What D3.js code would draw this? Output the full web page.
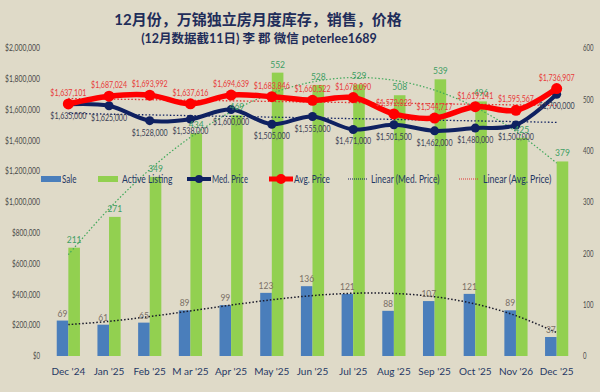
<!DOCTYPE html>
<html>
<head>
<meta charset="utf-8">
<script src="https://cdn.jsdelivr.net/npm/d3@7"></script>
<style>
  body { margin: 0; background: #dfdac8; }
  svg { display: block; font-family: Lato, "Noto Sans CJK SC", sans-serif; }
</style>
</head>
<body>
<div id="chart"></div>
<script>
'use strict';

const months = ["Dec '24", "Jan '25", "Feb '25", "M ar '25", "Apr '25", "May '25", "Jun '25",
    "Jul '25", "Aug '25", "Sep '25", "Oct '25", "Nov '26", "Dec '25"];
const sales = [69, 61, 65, 89, 99, 123, 136, 121, 88, 107, 121, 89, 37];
const listings = [211, 271, 349, 434, 469, 552, 528, 529, 508, 539, 496, 425, 379];
const medPrice = [1635000, 1625000, 1528000, 1538000, 1600000, 1505000, 1555000,
    1471000, 1501500, 1462000, 1480000, 1500000, 1700000];
const avgPrice = [1637101, 1687024, 1693992, 1637616, 1694639, 1683846, 1660522,
    1678090, 1572023, 1544717, 1619141, 1595567, 1736907];
const priceTicks = [0, 200000, 400000, 600000, 800000, 1000000, 1200000, 1400000,
    1600000, 1800000, 2000000];
const countTicks = [0, 100, 200, 300, 400, 500, 600];

const navy = '#0f2161';
const red = '#ff0000';
const blue = '#4a7ebb';
const green = '#92d050';

// least squares polynomial fit, returns fitted values at each index
function polyfit(ys, order) {
    let n = order + 1;
    let A = [], b = [];
    for (let i = 0; i < n; i++) {
        A.push(new Array(n).fill(0));
        b.push(0);
    }
    ys.forEach((y, x) => {
        for (let i = 0; i < n; i++) {
            for (let j = 0; j < n; j++) A[i][j] += Math.pow(x, i + j);
            b[i] += y * Math.pow(x, i);
        }
    });
    for (let i = 0; i < n; i++) {
        for (let k = i + 1; k < n; k++) {
            let f = A[k][i] / A[i][i];
            for (let j = i; j < n; j++) A[k][j] -= f * A[i][j];
            b[k] -= f * b[i];
        }
    }
    let c = new Array(n).fill(0);
    for (let i = n - 1; i >= 0; i--) {
        let s = b[i];
        for (let j = i + 1; j < n; j++) s -= A[i][j] * c[j];
        c[i] = s / A[i][i];
    }
    return ys.map((y, x) => c.reduce((acc, ci, i) => acc + ci * Math.pow(x, i), 0));
}

// squeeze text to a narrow (Calibri-like) width
function narrow(sel, perChar) {
    sel.attr('textLength', function() { return this.textContent.length * perChar; })
        .attr('lengthAdjust', 'spacingAndGlyphs');
}

const dim = { width: 600, height: 392, left: 48, right: 577, top: 48, bottom: 356 };

const svg = d3.select('#chart')
    .append('svg')
    .attr('width', dim.width)
    .attr('height', dim.height);

svg.append('rect')
    .attr('width', dim.width)
    .attr('height', dim.height)
    .attr('fill', '#dfdac8');

// titles
svg.append('text')
    .attr('x', 258).attr('y', 25)
    .attr('text-anchor', 'middle')
    .attr('font-size', 15).attr('font-weight', 'bold')
    .attr('fill', '#1f2d5a')
    .text('12月份，万锦独立房月度库存，销售，价格');

svg.append('text')
    .attr('x', 259).attr('y', 43)
    .attr('text-anchor', 'middle')
    .attr('font-size', 12.5).attr('font-weight', 'bold')
    .attr('fill', '#1f2d5a')
    .text('(12月数据截11日) 李 郡 微信 peterlee1689');

const xScale = d3.scaleBand()
    .domain(months)
    .range([dim.left, dim.right])
    .paddingInner(0.43)
    .paddingOuter(0.215);

const xSub = d3.scaleBand()
    .domain(['sale', 'listing'])
    .range([0, xScale.bandwidth()]);

const yPrice = d3.scaleLinear().domain([0, 2000000]).range([dim.bottom, dim.top]);
const yCount = d3.scaleLinear().domain([0, 600]).range([dim.bottom, dim.top]);

const cx = (i) => xScale(months[i]) + xScale.bandwidth() / 2;

// axes
const leftAxis = svg.append('g')
    .attr('transform', 'translate(40,0)')
    .call(d3.axisLeft(yPrice).tickValues(priceTicks).tickSize(0)
        .tickFormat((d) => '$' + d3.format(',')(d)));
const rightAxis = svg.append('g')
    .attr('transform', 'translate(583,0)')
    .call(d3.axisRight(yCount).tickValues(countTicks).tickSize(0));
[leftAxis, rightAxis].forEach((a) => {
    a.select('.domain').remove();
    a.selectAll('text')
        .attr('x', 0)
        .attr('font-size', 8.5)
        .attr('font-family', 'Lato, sans-serif')
        .attr('fill', '#4a4a4a')
        .call(narrow, 3.5);
});

const bottomAxis = svg.append('g')
    .attr('transform', 'translate(0,' + dim.bottom + ')')
    .call(d3.axisBottom(xScale).tickSize(0));
bottomAxis.select('.domain').remove();
bottomAxis.selectAll('text')
    .attr('y', 12)
    .attr('font-size', 10)
    .attr('font-family', 'Lato, sans-serif')
    .attr('fill', '#1f3864');

// bars
const bars = svg.append('g');
bars.selectAll('.sale')
    .data(sales)
    .enter()
    .append('rect')
    .attr('x', (d, i) => xScale(months[i]) + xSub('sale'))
    .attr('y', (d) => yCount(d))
    .attr('width', xSub.bandwidth())
    .attr('height', (d) => dim.bottom - yCount(d))
    .attr('fill', blue);

bars.selectAll('.listing')
    .data(listings)
    .enter()
    .append('rect')
    .attr('x', (d, i) => xScale(months[i]) + xSub('listing'))
    .attr('y', (d) => yCount(d))
    .attr('width', xSub.bandwidth())
    .attr('height', (d) => dim.bottom - yCount(d))
    .attr('fill', green);

// polynomial trendlines for the bar series
const trendLine = (yScale) => d3.line()
    .x((d, i) => cx(i))
    .y((d) => yScale(d))
    .curve(d3.curveCatmullRom.alpha(0.5));

svg.append('path')
    .attr('d', trendLine(yCount)(polyfit(listings, 3)))
    .attr('fill', 'none')
    .attr('stroke', '#3fa85a')
    .attr('stroke-width', 1.2)
    .attr('stroke-dasharray', '1.5,2');

svg.append('path')
    .attr('d', trendLine(yCount)(polyfit(sales, 3)))
    .attr('fill', 'none')
    .attr('stroke', '#1a1a2a')
    .attr('stroke-width', 1.5)
    .attr('stroke-dasharray', '1.5,2');

// linear trendlines for prices
svg.append('path')
    .attr('d', trendLine(yPrice)(polyfit(medPrice, 1)))
    .attr('fill', 'none')
    .attr('stroke', navy)
    .attr('stroke-width', 1.3)
    .attr('stroke-dasharray', '1.5,2');

svg.append('path')
    .attr('d', trendLine(yPrice)(polyfit(avgPrice, 1)))
    .attr('fill', 'none')
    .attr('stroke', '#e03030')
    .attr('stroke-width', 1.3)
    .attr('stroke-dasharray', '1.5,2');

// price lines
const priceLine = d3.line()
    .x((d, i) => cx(i))
    .y((d) => yPrice(d))
    .curve(d3.curveCatmullRom.alpha(0.5));

svg.append('path')
    .attr('d', priceLine(medPrice))
    .attr('fill', 'none')
    .attr('stroke', navy)
    .attr('stroke-width', 4);
svg.append('g').selectAll('circle')
    .data(medPrice)
    .enter()
    .append('circle')
    .attr('cx', (d, i) => cx(i))
    .attr('cy', (d) => yPrice(d))
    .attr('r', 4.5)
    .attr('fill', navy);

svg.append('path')
    .attr('d', priceLine(avgPrice))
    .attr('fill', 'none')
    .attr('stroke', red)
    .attr('stroke-width', 5.5);
svg.append('g').selectAll('circle')
    .data(avgPrice)
    .enter()
    .append('circle')
    .attr('cx', (d, i) => cx(i))
    .attr('cy', (d) => yPrice(d))
    .attr('r', 5.5)
    .attr('fill', red);

// data labels
const labels = svg.append('g')
    .attr('font-size', 8.5)
    .attr('text-anchor', 'middle');
const money = (d) => '$' + d3.format(',')(d);

labels.selectAll('.lsale')
    .data(sales)
    .enter()
    .append('text')
    .attr('x', (d, i) => xScale(months[i]) + xSub('sale') + xSub.bandwidth() / 2)
    .attr('y', (d) => yCount(d) - 4)
    .attr('fill', '#7a6f66')
    .text((d) => d);

labels.selectAll('.llist')
    .data(listings)
    .enter()
    .append('text')
    .attr('x', (d, i) => xScale(months[i]) + xSub('listing') + xSub.bandwidth() / 2)
    .attr('y', (d) => yCount(d) - 5)
    .attr('fill', '#3e9e64')
    .text((d) => d);

labels.selectAll('.lmed')
    .data(medPrice)
    .enter()
    .append('text')
    .attr('x', (d, i) => cx(i))
    .attr('y', (d) => yPrice(d) + 15)
    .attr('fill', '#3b3f55')
    .text(money)
    .call(narrow, 3.6);

labels.selectAll('.lavg')
    .data(avgPrice)
    .enter()
    .append('text')
    .attr('x', (d, i) => cx(i))
    .attr('y', (d) => yPrice(d) - 8)
    .attr('fill', '#e8393a')
    .text(money)
    .call(narrow, 3.6);

// legend
const legend = svg.append('g')
    .attr('font-size', 10.5)
    .attr('fill', '#1f3864');

const legendItems = [
    { name: 'Sale', type: 'bar', color: blue, x: 41, tx: 62 },
    { name: 'Active Listing', type: 'bar', color: green, x: 98, tx: 122 },
    { name: 'Med. Price', type: 'line', color: navy, w: 4, r: 4, x: 187, tx: 212 },
    { name: 'Avg. Price', type: 'line', color: red, w: 5, r: 5, x: 269, tx: 294 },
    { name: 'Linear (Med. Price)', type: 'dot', color: navy, x: 348, tx: 371 },
    { name: 'Linear (Avg. Price)', type: 'dot', color: '#e03030', x: 459, tx: 483 }
];

legendItems.forEach((it) => {
    let ly = 179;
    if (it.type === 'bar') {
        legend.append('rect')
            .attr('x', it.x).attr('y', ly - 3)
            .attr('width', 20).attr('height', 6)
            .attr('fill', it.color);
    } else if (it.type === 'line') {
        legend.append('line')
            .attr('x1', it.x).attr('x2', it.x + 24)
            .attr('y1', ly).attr('y2', ly)
            .attr('stroke', it.color).attr('stroke-width', it.w);
        legend.append('circle')
            .attr('cx', it.x + 12).attr('cy', ly)
            .attr('r', it.r).attr('fill', it.color);
    } else {
        legend.append('line')
            .attr('x1', it.x).attr('x2', it.x + 20)
            .attr('y1', ly).attr('y2', ly)
            .attr('stroke', it.color).attr('stroke-width', 1)
            .attr('stroke-dasharray', '1,1');
    }
    legend.append('text')
        .attr('x', it.tx).attr('y', ly + 4)
        .text(it.name)
        .call(narrow, 3.6);
});
</script>
</body>
</html>
